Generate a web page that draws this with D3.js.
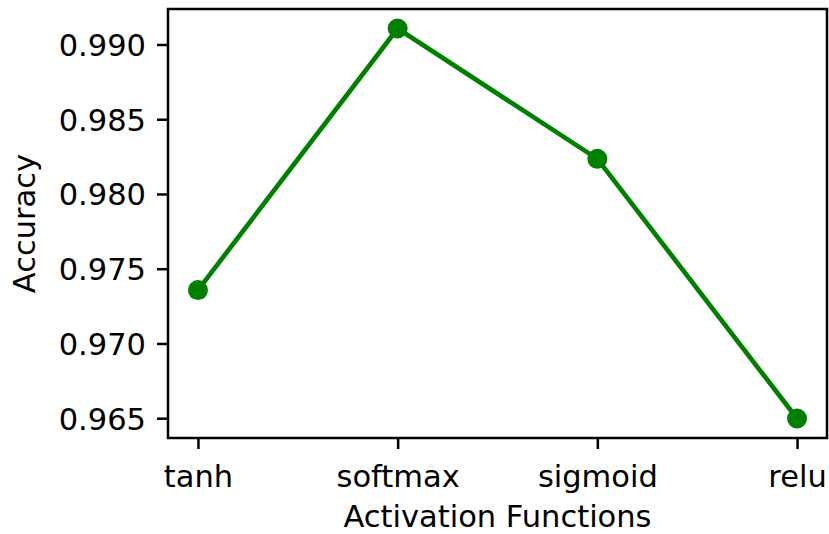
<!DOCTYPE html>
<html>
<head>
<meta charset="utf-8">
<script src="https://cdn.jsdelivr.net/npm/d3@7"></script>
<style>
  body { margin: 0; background: #fff; }
  text { font-family: "DejaVu Sans", sans-serif; fill: #000; }
</style>
</head>
<body>
<div id="chart"></div>
<script>
// activation functions vs accuracy
var categories = ["tanh", "softmax", "sigmoid", "relu"];
var accuracy = [0.97357, 0.99107, 0.98235, 0.96498];
var yTicks = [0.965, 0.970, 0.975, 0.980, 0.985, 0.990];

var width = 829, height = 534;
var margin = { left: 168, right: 2, top: 9, bottom: 96 };
var innerW = width - margin.left - margin.right;
var innerH = height - margin.top - margin.bottom;
var fontSize = 30.5;

var svg = d3.select("#chart")
  .append("svg")
    .attr("width", width)
    .attr("height", height);

var g = svg.append("g")
  .attr("transform", "translate(" + margin.left + "," + margin.top + ")");

// matplotlib style 5% margins
var x = d3.scaleLinear()
  .domain([-0.15, categories.length - 1 + 0.15])
  .range([0, innerW]);

var yMin = d3.min(accuracy), yMax = d3.max(accuracy);
var yPad = (yMax - yMin) * 0.05;
var y = d3.scaleLinear()
  .domain([yMin - yPad, yMax + yPad])
  .range([innerH, 0]);

var xAxis = d3.axisBottom(x)
  .tickValues(d3.range(categories.length))
  .tickFormat(function(i) { return categories[i]; })
  .tickSize(11)
  .tickPadding(11)
  .tickSizeOuter(0);

var yAxis = d3.axisLeft(y)
  .tickValues(yTicks)
  .tickFormat(d3.format(".3f"))
  .tickSize(11)
  .tickPadding(11)
  .tickSizeOuter(0);

var gx = g.append("g")
  .attr("transform", "translate(0," + innerH + ")")
  .call(xAxis);
var gy = g.append("g").call(yAxis);

[gx, gy].forEach(function(a) {
  a.select(".domain").remove();
  a.selectAll(".tick line").attr("stroke", "#000").attr("stroke-width", 2.5);
  a.selectAll(".tick text")
    .style("font-family", "DejaVu Sans")
    .style("font-size", fontSize + "px")
    .attr("fill", "#000");
});
gy.selectAll(".tick text").attr("dy", "0.36em");
gx.selectAll(".tick text").attr("dy", "0.88em");

// frame
g.append("rect")
  .attr("x", 0).attr("y", 0)
  .attr("width", innerW).attr("height", innerH)
  .attr("fill", "none")
  .attr("stroke", "#000")
  .attr("stroke-width", 2.5);

var line = d3.line()
  .x(function(d, i) { return x(i); })
  .y(function(d) { return y(d); });

g.append("path")
  .datum(accuracy)
  .attr("d", line)
  .attr("fill", "none")
  .attr("stroke", "#008000")
  .attr("stroke-width", 4.7)
  .attr("stroke-linejoin", "round");

g.selectAll("circle")
  .data(accuracy)
  .enter().append("circle")
    .attr("cx", function(d, i) { return x(i); })
    .attr("cy", function(d) { return y(d); })
    .attr("r", 10)
    .attr("fill", "#008000");

// axis labels
svg.append("text")
  .attr("x", margin.left + innerW / 2)
  .attr("y", 527)
  .attr("text-anchor", "middle")
  .style("font-size", fontSize + "px")
  .text("Activation Functions");

svg.append("text")
  .attr("transform", "translate(35," + (margin.top + innerH / 2) + ")rotate(-90)")
  .attr("text-anchor", "middle")
  .style("font-size", fontSize + "px")
  .text("Accuracy");
</script>
</body>
</html>
